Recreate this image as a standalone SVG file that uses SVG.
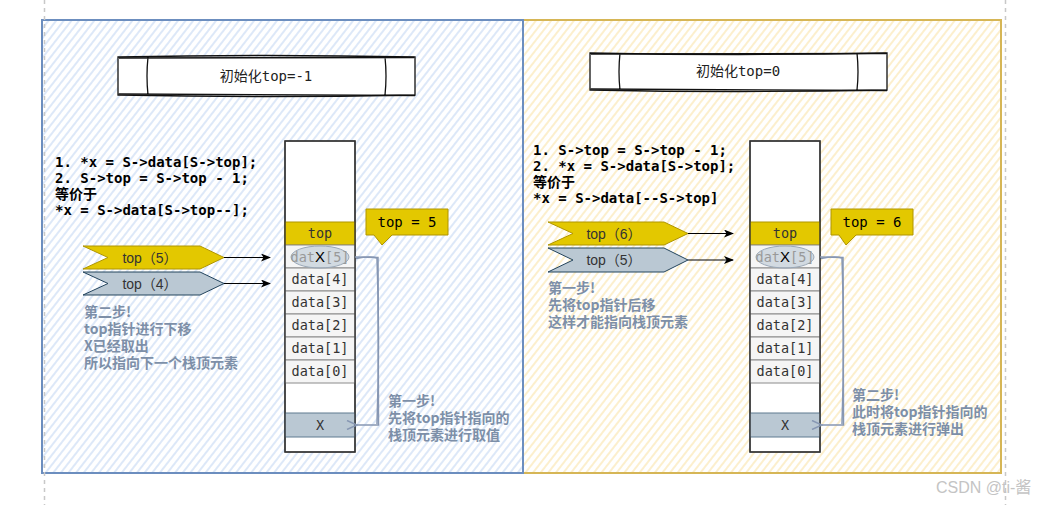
<svg xmlns="http://www.w3.org/2000/svg" width="1048" height="505" viewBox="0 0 1048 505">
<style>
.code{font-family:"DejaVu Sans Mono","Liberation Mono","Noto Sans CJK SC",monospace;font-size:14px;font-weight:bold;fill:#000}
.val{font-family:"DejaVu Sans Mono","Liberation Mono",monospace;font-size:14px;font-weight:normal;fill:#000;text-anchor:middle}
.cell{fill:#f5f5f5;stroke:#8a8a8a;stroke-width:1}
.ctext{font-family:"DejaVu Sans Mono","Liberation Mono",monospace;font-size:13.5px;fill:#333;text-anchor:middle}
.note{font-family:"Noto Sans CJK SC","Liberation Sans",sans-serif;font-size:14px;font-weight:bold;fill:#7d8fa8}
.ytop{fill:#e3c800;stroke:#b09500;stroke-width:1}
.gx{fill:#bac8d3;stroke:#5f7a90;stroke-width:1}
.chev{font-family:"Liberation Sans","Noto Sans CJK SC",sans-serif;font-size:14px;fill:#333;text-anchor:middle}
.title{font-family:"DejaVu Sans Mono","Noto Sans CJK SC",monospace;font-size:14px;fill:#222;text-anchor:middle}
.sk{fill:none;stroke:#111;stroke-width:1.3}
.conn{fill:none;stroke:#8797b3;stroke-width:1.5}
.ptr{fill:none;stroke:#000;stroke-width:1}
</style>
<defs>
<pattern id="hb" patternUnits="userSpaceOnUse" width="10" height="6" patternTransform="rotate(-52)">
<rect width="10" height="6" fill="#ffffff"/>
<line x1="0" y1="3" x2="10" y2="3" stroke="#cfdff6" stroke-width="1.4"/>
</pattern>
<pattern id="hy" patternUnits="userSpaceOnUse" width="10" height="6" patternTransform="rotate(-52)">
<rect width="10" height="6" fill="#ffffff"/>
<line x1="0" y1="3" x2="10" y2="3" stroke="#fbe9b8" stroke-width="1.4"/>
</pattern>
<marker id="arr" markerWidth="10" markerHeight="8" refX="9" refY="4" orient="auto" markerUnits="userSpaceOnUse">
<path d="M0,0 L10,4 L0,8 L2.5,4 Z" fill="#000"/>
</marker>
<marker id="open" markerWidth="12" markerHeight="10" refX="1" refY="5" orient="auto" markerUnits="userSpaceOnUse">
<path d="M11,0.5 L1,5 L11,9.5" fill="none" stroke="#8797b3" stroke-width="1.5"/>
</marker>
</defs>

<rect width="1048" height="505" fill="#ffffff"/>

<g id="panel-right">
<rect x="520" y="20" width="481" height="453" fill="url(#hy)" stroke="#d6b656" stroke-width="2"/>
</g>
<g id="panel-left">
<rect x="42" y="20" width="481" height="453" fill="url(#hb)" stroke="#6c8ebf" stroke-width="2"/>
</g>
<g id="page-lines">
<line x1="44.5" y1="0" x2="44.5" y2="505" stroke="#c8c8c8" stroke-width="1.5" stroke-dasharray="4,4"/>
<line x1="1005.5" y1="0" x2="1005.5" y2="505" stroke="#c8c8c8" stroke-width="1.5" stroke-dasharray="4,4"/>
</g>

<!-- Left panel -->
<g id="title-left">
<rect x="118" y="57" width="297" height="38" fill="#fff"/>
<path class="sk" d="M118,57 Q266,54 415,57 L415,95 Q266,98 118,95 Z"/>
<path class="sk" d="M119,58 L414,57.5 M118.5,94 L415,95.5 M148,57 Q146,76 148,95 M385,57 Q387,76 385,95"/>
<text class="title" x="266" y="81">初始化top=-1</text>
</g>

<g id="code-left">
<text class="code" x="55" y="167">1. *x = S-&gt;data[S-&gt;top];<tspan x="55" dy="16">2. S-&gt;top = S-&gt;top - 1;</tspan><tspan x="55" dy="16">等价于</tspan><tspan x="55" dy="16">*x = S-&gt;data[S-&gt;top--];</tspan></text>
</g>

<g id="stack-left">
<rect x="285" y="141" width="70" height="311" fill="#fff" stroke="#333" stroke-width="1.3"/>
<rect class="ytop" x="285" y="222" width="70" height="23"/>
<text class="ctext" x="320" y="238">top</text>
<rect class="cell" x="285" y="245" width="70" height="23"/>
<rect class="cell" x="285" y="268" width="70" height="23"/>
<rect class="cell" x="285" y="291" width="70" height="23"/>
<rect class="cell" x="285" y="314" width="70" height="23"/>
<rect class="cell" x="285" y="337" width="70" height="23"/>
<rect class="cell" x="285" y="360" width="70" height="23"/>
<text class="ctext" x="320" y="284">data[4]</text>
<text class="ctext" x="320" y="307">data[3]</text>
<text class="ctext" x="320" y="330">data[2]</text>
<text class="ctext" x="320" y="353">data[1]</text>
<text class="ctext" x="320" y="376">data[0]</text>
<rect class="gx" x="285" y="413" width="70" height="24"/>
<text class="ctext" x="320" y="430">X</text>
<rect x="285" y="141" width="70" height="311" fill="none" stroke="#333" stroke-width="1.3"/>
<ellipse cx="320" cy="257" rx="29" ry="11" fill="#bac8d3" fill-opacity="0.6" stroke="#9aa8b8" stroke-width="1"/>
<text class="ctext" x="320" y="262"><tspan fill="#999">dat</tspan><tspan fill="#000" font-family="Liberation Sans,sans-serif" font-size="15">X</tspan><tspan fill="#999">[5]</tspan></text>
</g>

<g id="callout-left">
<path class="ytop" d="M366,209 L448,209 L448,235 L392,235 L382,245 L374,235 L366,235 Z"/>
<text class="val" x="407" y="227">top = 5</text>
</g>

<g id="ptr-left-5">
<polygon class="ytop" points="83,246 200,246 224,257.5 200,269 83,269 108,257.5"/>
<text class="chev" x="150" y="262.5">top（5）</text>
</g>
<g id="ptr-left-4">
<polygon points="83,272 200,272 224,283.5 200,295 83,295 108,283.5" fill="#bac8d3" stroke="#23445d" stroke-width="1"/>
<text class="chev" x="150" y="288.5">top（4）</text>
</g>

<g id="note-left-2">
<text class="note" x="84" y="317">第二步!<tspan x="84" dy="17">top指针进行下移</tspan><tspan x="84" dy="17">X已经取出</tspan><tspan x="84" dy="17">所以指向下一个栈顶元素</tspan></text>
</g>
<g id="note-left-1">
<text class="note" x="388" y="406">第一步!<tspan x="388" dy="17">先将top指针指向的</tspan><tspan x="388" dy="17">栈顶元素进行取值</tspan></text>
</g>

<!-- Right panel -->
<g id="title-right">
<rect x="590" y="53" width="297" height="37" fill="#fff"/>
<path class="sk" d="M590,53 Q738,56 887,53 L887,90 Q738,93 590,90 Z"/>
<path class="sk" d="M591,54 L886,53.5 M590.5,89 L887,90.5 M620,53 Q618,72 620,90 M857,53 Q859,72 857,90"/>
<text class="title" x="738" y="76">初始化top=0</text>
</g>

<g id="code-right">
<text class="code" x="533" y="155">1. S-&gt;top = S-&gt;top - 1;<tspan x="533" dy="16">2. *x = S-&gt;data[S-&gt;top];</tspan><tspan x="533" dy="16">等价于</tspan><tspan x="533" dy="16">*x = S-&gt;data[--S-&gt;top]</tspan></text>
</g>

<g id="stack-right">
<rect x="750" y="141" width="70" height="311" fill="#fff" stroke="#333" stroke-width="1.3"/>
<rect class="ytop" x="750" y="222" width="70" height="23"/>
<text class="ctext" x="785" y="238">top</text>
<rect class="cell" x="750" y="245" width="70" height="23"/>
<rect class="cell" x="750" y="268" width="70" height="23"/>
<rect class="cell" x="750" y="291" width="70" height="23"/>
<rect class="cell" x="750" y="314" width="70" height="23"/>
<rect class="cell" x="750" y="337" width="70" height="23"/>
<rect class="cell" x="750" y="360" width="70" height="23"/>
<text class="ctext" x="785" y="284">data[4]</text>
<text class="ctext" x="785" y="307">data[3]</text>
<text class="ctext" x="785" y="330">data[2]</text>
<text class="ctext" x="785" y="353">data[1]</text>
<text class="ctext" x="785" y="376">data[0]</text>
<rect class="gx" x="750" y="413" width="70" height="24"/>
<text class="ctext" x="785" y="430">X</text>
<rect x="750" y="141" width="70" height="311" fill="none" stroke="#333" stroke-width="1.3"/>
<ellipse cx="785" cy="257" rx="29" ry="11" fill="#bac8d3" fill-opacity="0.6" stroke="#9aa8b8" stroke-width="1"/>
<text class="ctext" x="785" y="262"><tspan fill="#999">dat</tspan><tspan fill="#000" font-family="Liberation Sans,sans-serif" font-size="15">X</tspan><tspan fill="#999">[5]</tspan></text>
</g>

<g id="callout-right">
<path class="ytop" d="M831,209 L913,209 L913,235 L856,235 L846,245 L839,235 L831,235 Z"/>
<text class="val" x="872" y="227">top = 6</text>
</g>

<g id="ptr-right-6">
<polygon class="ytop" points="548,222 664,222 688,233.5 664,245 548,245 573,233.5"/>
<text class="chev" x="614" y="238.5">top（6）</text>
</g>
<g id="ptr-right-5">
<polygon points="548,248 664,248 688,260 664,272 548,272 573,260" fill="#bac8d3" stroke="#23445d" stroke-width="1"/>
<text class="chev" x="614" y="265">top（5）</text>
</g>

<g id="note-right-1">
<text class="note" x="548" y="293">第一步!<tspan x="548" dy="17">先将top指针后移</tspan><tspan x="548" dy="17">这样才能指向栈顶元素</tspan></text>
</g>
<g id="note-right-2">
<text class="note" x="852" y="400">第二步!<tspan x="852" dy="17">此时将top指针指向的</tspan><tspan x="852" dy="17">栈顶元素进行弹出</tspan></text>
</g>

<g id="connectors">
<line class="ptr" x1="224" y1="257.5" x2="270" y2="257.5" marker-end="url(#arr)"/>
<line class="ptr" x1="224" y1="283.5" x2="270" y2="283.5" marker-end="url(#arr)"/>
<line class="ptr" x1="688" y1="233.5" x2="733" y2="233.5" marker-end="url(#arr)"/>
<line class="ptr" x1="688" y1="260" x2="733" y2="260" marker-end="url(#arr)"/>
<path class="conn" d="M355,257 L378,257.5 L378.5,425 L357,425" marker-end="url(#open)"/>
<path class="conn" d="M356,258.5 Q370,256 377,258 Q380,340 377,424" stroke-width="0.8"/>
<path class="conn" d="M820,257 L843,257.5 L843.5,425 L822,425" marker-end="url(#open)"/>
<path class="conn" d="M821,258.5 Q835,256 842,258 Q845,340 842,424" stroke-width="0.8"/>
</g>

<g id="watermark">
<text x="936" y="493" font-family="Liberation Sans,Noto Sans CJK SC,sans-serif" font-size="16" fill="#c4c4c4">CSDN @ti-酱</text>
</g>
</svg>
